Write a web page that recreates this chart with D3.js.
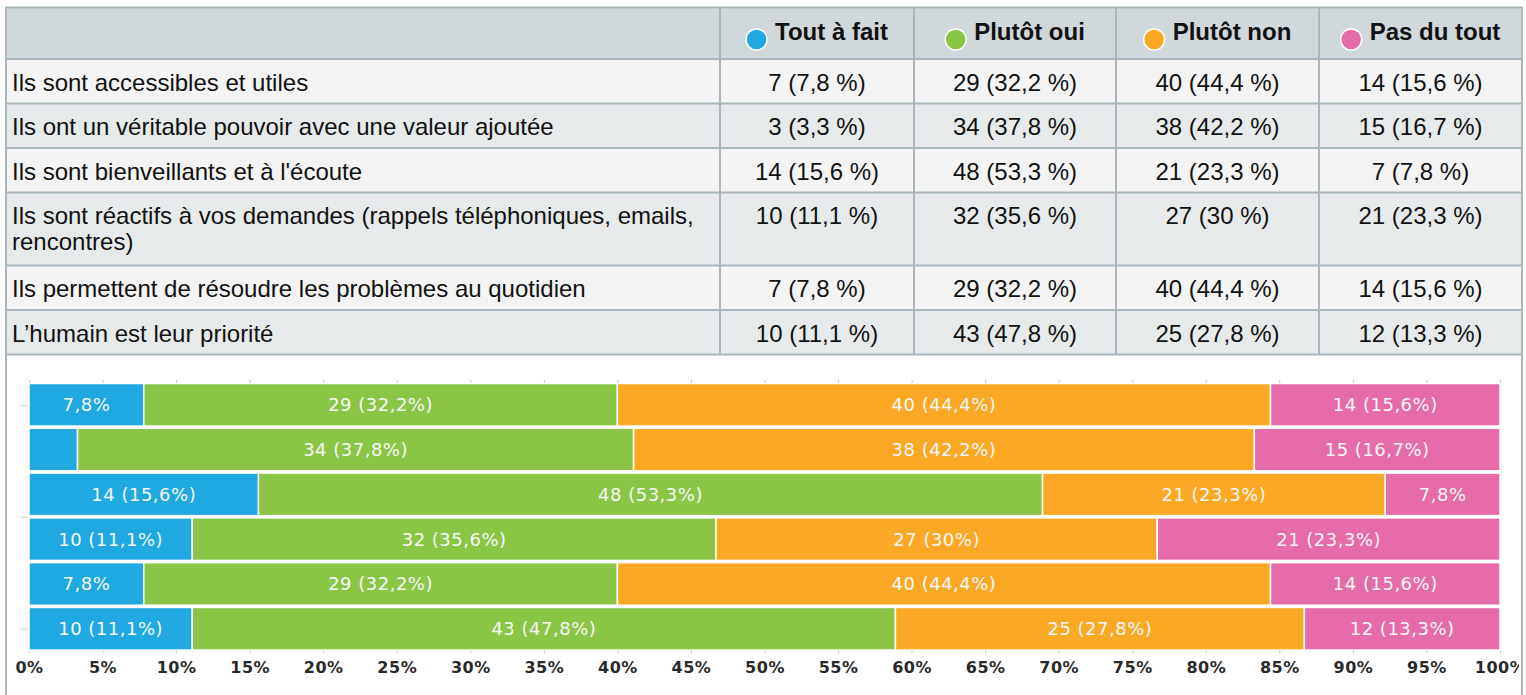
<!DOCTYPE html>
<html>
<head>
<meta charset="utf-8">
<script src="https://cdn.jsdelivr.net/npm/d3@7"></script>
<style>
  body { margin: 0; background: #fff; }
  svg { display: block; }
</style>
</head>
<body>
<svg id="chart"></svg>
<script>
// questions (rows)
const questions = [
  'Ils sont accessibles et utiles',
  'Ils ont un véritable pouvoir avec une valeur ajoutée',
  "Ils sont bienveillants et à l'écoute",
  'Ils sont réactifs à vos demandes (rappels téléphoniques, emails, rencontres)',
  'Ils permettent de résoudre les problèmes au quotidien',
  'L’humain est leur priorité'
];
const answers = ['Tout à fait', 'Plutôt oui', 'Plutôt non', 'Pas du tout'];
const colors = ['#20a9e0', '#8bc546', '#fba924', '#e56ca8'];

// counts per answer
const toutAFait = [7, 3, 14, 10, 7, 10];
const plutotOui = [29, 34, 48, 32, 29, 43];
const plutotNon = [40, 38, 21, 27, 40, 25];
const pasDuTout = [14, 15, 7, 21, 14, 12];
// percentages per answer
const toutAFaitPct = [7.8, 3.3, 15.6, 11.1, 7.8, 11.1];
const plutotOuiPct = [32.2, 37.8, 53.3, 35.6, 32.2, 47.8];
const plutotNonPct = [44.4, 42.2, 23.3, 30, 44.4, 27.8];
const pasDuToutPct = [15.6, 16.7, 7.8, 23.3, 15.6, 13.3];

const xTicks = d3.range(0, 101, 5);

const counts = [toutAFait, plutotOui, plutotNon, pasDuTout];
const pcts = [toutAFaitPct, plutotOuiPct, plutotNonPct, pasDuToutPct];
const fmt = (p) => String(p).replace('.', ',');

const W = 1526, H = 695;
const svg = d3.select('#chart').attr('width', W).attr('height', H);

// ---------- table ----------
const colX = [6, 720, 914, 1116, 1319, 1522];
const tableTop = 7.5;
const headerH = 51.5;
const lineH = 26;
const borderColor = '#a9b7bc';
const tableFont = "'Liberation Sans', Arial, sans-serif";

// wrap the question labels to the first column width
const measure = svg.append('text')
  .style('font-family', tableFont).style('font-size', '24px');
const maxW = colX[1] - colX[0] - 14;
const wrapped = questions.map((q) => {
  const words = q.split(' ');
  const lines = [];
  let cur = '';
  words.forEach((w) => {
    const test = cur ? cur + ' ' + w : w;
    measure.text(test);
    if (measure.node().getComputedTextLength() > maxW && cur) {
      lines.push(cur);
      cur = w;
    } else {
      cur = test;
    }
  });
  lines.push(cur);
  return lines;
});
measure.remove();

const rowTops = [];
let yy = tableTop + headerH;
wrapped.forEach((lines) => {
  rowTops.push(yy);
  yy += 18 + (lines.length === 1 ? 26.5 : 55);
});
const tableBottom = yy;

const table = svg.append('g').attr('class', 'table');

// header background
table.append('rect')
  .attr('x', colX[0]).attr('y', tableTop)
  .attr('width', colX[5] - colX[0]).attr('height', headerH)
  .attr('fill', '#d0d8dc');

// row backgrounds
rowTops.forEach((top, i) => {
  const bottom = i < rowTops.length - 1 ? rowTops[i + 1] : tableBottom;
  table.append('rect')
    .attr('x', colX[0]).attr('y', top)
    .attr('width', colX[5] - colX[0]).attr('height', bottom - top)
    .attr('fill', i % 2 === 0 ? '#f4f4f4' : '#e7eaeb');
});

// header cells: legend dot + bold label, centered in column
answers.forEach((a, j) => {
  const cx = (colX[j + 1] + colX[j + 2]) / 2;
  const g = table.append('g');
  const t = g.append('text')
    .attr('y', tableTop + 32.5)
    .style('font-family', tableFont)
    .style('font-size', '24px')
    .style('font-weight', 'bold')
    .attr('fill', '#111')
    .text(a);
  const tw = t.node().getComputedTextLength();
  const total = 21 + 8 + tw;
  const x0 = cx - total / 2;
  t.attr('x', x0 + 29);
  g.append('circle')
    .attr('cx', x0 + 10.5).attr('cy', tableTop + 32)
    .attr('r', 10.5)
    .attr('fill', colors[j])
    .attr('stroke', '#fff').attr('stroke-width', 1.5);
});

// body cells
wrapped.forEach((lines, i) => {
  const top = rowTops[i];
  lines.forEach((l, k) => {
    table.append('text')
      .attr('x', colX[0] + 6)
      .attr('y', top + 31.5 + k * lineH)
      .style('font-family', tableFont)
      .style('font-size', '24px')
      .attr('fill', '#111')
      .text(l);
  });
  answers.forEach((a, j) => {
    table.append('text')
      .attr('x', (colX[j + 1] + colX[j + 2]) / 2)
      .attr('y', top + 31.5)
      .attr('text-anchor', 'middle')
      .style('font-family', tableFont)
      .style('font-size', '24px')
      .attr('fill', '#111')
      .text(`${counts[j][i]} (${fmt(pcts[j][i])} %)`);
  });
});

// grid lines
[tableTop, tableTop + headerH, ...rowTops.slice(1), tableBottom].forEach((y) => {
  table.append('line')
    .attr('x1', colX[0] - 1).attr('x2', colX[5] + 1)
    .attr('y1', y).attr('y2', y)
    .attr('stroke', borderColor).attr('stroke-width', 2);
});
colX.forEach((x, j) => {
  const outer = j === 0 || j === colX.length - 1;
  table.append('line')
    .attr('x1', x).attr('x2', x)
    .attr('y1', tableTop).attr('y2', outer ? H : tableBottom)
    .attr('stroke', borderColor).attr('stroke-width', 2);
});

// ---------- stacked bars ----------
svg.append('clipPath').attr('id', 'clip')
  .append('rect').attr('x', colX[0] + 1).attr('y', tableBottom + 1)
  .attr('width', colX[5] - colX[0] - 4).attr('height', H - tableBottom);

const chart = svg.append('g').attr('clip-path', 'url(#clip)');

const x = d3.scaleLinear().domain([0, 100]).range([29, 1500]);
const y = d3.scaleBand().domain(d3.range(questions.length)).range([383.5, 650]).paddingInner(0.05);
const yc = d3.scaleLinear().domain([0, questions.length - 1])
  .range([y(0) + y.bandwidth() / 2, y(questions.length - 1) + y.bandwidth() / 2]);

const segs = [];
questions.forEach((q, i) => {
  let acc = 0;
  answers.forEach((a, j) => {
    const p = pcts[j][i];
    segs.push({ i, j, x0: acc, x1: acc + p, n: counts[j][i], p });
    acc += p;
  });
});

chart.selectAll('rect.seg')
  .data(segs)
  .join('rect')
  .attr('class', 'seg')
  .attr('x', (d) => x(d.x0))
  .attr('y', (d) => y(d.i))
  .attr('width', (d) => x(d.x1) - x(d.x0))
  .attr('height', y.bandwidth())
  .attr('fill', (d) => colors[d.j])
  .attr('stroke', '#fff')
  .attr('stroke-width', 1.5);

chart.selectAll('text.lbl')
  .data(segs.filter((d) => d.p >= 5))
  .join('text')
  .attr('class', 'lbl')
  .attr('x', (d) => (x(d.x0) + x(d.x1)) / 2)
  .attr('y', (d) => y(d.i) + y.bandwidth() / 2 + 6.5)
  .attr('text-anchor', 'middle')
  .style('font-family', "'DejaVu Sans', sans-serif")
  .style('font-size', '18px')
  .style('letter-spacing', '0.5px')
  .attr('fill', '#f7f7f7')
  .text((d) => (d.p >= 10 ? `${d.n} (${fmt(d.p)}%)` : `${fmt(d.p)}%`));

// top ticks
chart.append('g')
  .attr('transform', 'translate(0,383)')
  .call(d3.axisTop(x).tickValues(xTicks).tickSize(3).tickFormat(''))
  .call((g) => g.select('.domain').remove())
  .call((g) => g.selectAll('line').attr('stroke', '#c8c8c8'));

// bottom axis
chart.append('g')
  .attr('transform', 'translate(0,650.5)')
  .call(d3.axisBottom(x).tickValues(xTicks).tickSize(3).tickPadding(8).tickFormat((d) => d + '%'))
  .call((g) => g.select('.domain').remove())
  .call((g) => g.selectAll('line').attr('stroke', '#c8c8c8'))
  .call((g) => g.selectAll('text')
    .style('font-family', "'DejaVu Sans', sans-serif")
    .style('font-size', '16px')
    .style('font-weight', 'bold')
    .style('letter-spacing', '0.5px')
    .attr('fill', '#2a2a2a'));

// left ticks
chart.append('g')
  .attr('transform', 'translate(27,0)')
  .call(d3.axisLeft(yc).tickValues([0, 2.5, 5]).tickSize(6).tickFormat(''))
  .call((g) => g.select('.domain').remove())
  .call((g) => g.selectAll('line').attr('stroke', '#c8c8c8'));
</script>
</body>
</html>
